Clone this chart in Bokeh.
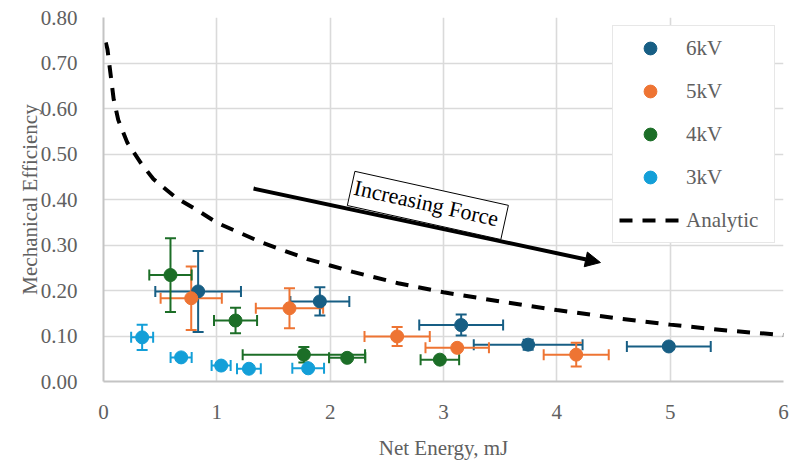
import numpy as np
from bokeh.plotting import figure
from bokeh.models import (ColumnDataSource, Whisker, TeeHead, Arrow, NormalHead, Label,
                          Legend, LegendItem, FixedTicker, NumeralTickFormatter, Range1d)
from bokeh.embed import file_html
from bokeh.resources import INLINE

# ---------------- data ----------------
series_names = ["6kV", "5kV", "4kV", "3kV"]
series_colors = ["#175e84", "#ee7433", "#1c6e27", "#139fd8"]

x_6kv = [0.835, 1.909, 3.156, 3.747, 4.988]
y_6kv = [0.198, 0.176, 0.124, 0.081, 0.077]
xerr_6kv = [0.378, 0.26, 0.37, 0.48, 0.37]
yerr_6kv = [0.089, 0.031, 0.023, 0.011, 0.0]

x_5kv = [0.774, 1.641, 2.591, 3.121, 4.171]
y_5kv = [0.183, 0.161, 0.099, 0.074, 0.059]
xerr_5kv = [0.27, 0.297, 0.288, 0.28, 0.287]
yerr_5kv = [0.07, 0.044, 0.021, 0.0, 0.026]

x_4kv = [0.591, 1.165, 1.768, 2.15, 2.968]
y_4kv = [0.234, 0.134, 0.059, 0.052, 0.048]
xerr_4kv = [0.187, 0.19, 0.54, 0.16, 0.17]
yerr_4kv = [0.081, 0.028, 0.017, 0.0, 0.0]

x_3kv = [0.341, 0.685, 1.038, 1.283, 1.806]
y_3kv = [0.097, 0.053, 0.035, 0.028, 0.029]
xerr_3kv = [0.097, 0.093, 0.084, 0.105, 0.14]
yerr_3kv = [0.028, 0.0, 0.0, 0.0, 0.0]

analytic_x = [0.02, 0.035, 0.06, 0.09, 0.13, 0.21, 0.33, 0.44, 0.64, 0.83, 1.0, 1.2, 1.4,
              1.6, 1.8, 2.0, 2.2, 2.6, 3.0, 3.5, 4.0, 4.5, 5.0, 5.5, 6.0]
analytic_y = [0.745, 0.73, 0.68, 0.62, 0.575, 0.525, 0.48, 0.445, 0.404, 0.376, 0.349, 0.327,
              0.305, 0.287, 0.269, 0.255, 0.241, 0.216, 0.196, 0.176, 0.157, 0.140, 0.125,
              0.112, 0.102]

x_ticks = [0, 1, 2, 3, 4, 5, 6]
y_ticks = [0.0, 0.1, 0.2, 0.3, 0.4, 0.5, 0.6, 0.7, 0.8]

arrow_start = (1.324, 0.424)
arrow_end = (4.385, 0.2615)
label_pos = (2.862, 0.387)
label_text = "Increasing Force"

FONT = "Liberation Serif"
GRAY = "#606060"

series = [
    (x_6kv, y_6kv, xerr_6kv, yerr_6kv),
    (x_5kv, y_5kv, xerr_5kv, yerr_5kv),
    (x_4kv, y_4kv, xerr_4kv, yerr_4kv),
    (x_3kv, y_3kv, xerr_3kv, yerr_3kv),
]

p = figure(width=790, height=464, output_backend="svg", toolbar_location=None,
           x_range=Range1d(0, 6), y_range=Range1d(0, 0.8),
           min_border_left=103, min_border_right=7, min_border_top=17, min_border_bottom=83)
p.outline_line_color = None
p.background_fill_color = "white"

for ax in (p.xaxis[0], p.yaxis[0]):
    ax.axis_line_color = "#c4c4c4"
    ax.axis_line_width = 2
    ax.major_tick_line_color = None
    ax.minor_tick_line_color = None
    ax.major_label_text_font = FONT
    ax.major_label_text_font_size = "21px"
    ax.major_label_text_color = GRAY
    ax.axis_label_text_font = FONT
    ax.axis_label_text_font_size = "21px"
    ax.axis_label_text_color = GRAY
    ax.axis_label_text_font_style = "normal"

p.xaxis.ticker = FixedTicker(ticks=x_ticks)
p.yaxis.ticker = FixedTicker(ticks=y_ticks)
p.yaxis.formatter = NumeralTickFormatter(format="0.00")
p.xaxis.axis_label = "Net Energy, mJ"
p.yaxis.axis_label = "Mechanical Efficiency"
p.xaxis.major_label_standoff = 17
p.yaxis.major_label_standoff = 20
p.xaxis.axis_label_standoff = 14
p.yaxis.axis_label_standoff = -4

for g in (p.xgrid[0], p.ygrid[0]):
    g.grid_line_color = "#dadada"
    g.grid_line_width = 1.6

for (xs, ys, xe, ye), name, c in zip(series, series_names, series_colors):
    xs = np.array(xs); ys = np.array(ys); xe = np.array(xe); ye = np.array(ye)
    srcx = ColumnDataSource(dict(y=ys, lo=xs - xe, hi=xs + xe))
    wx = Whisker(source=srcx, base="y", lower="lo", upper="hi", dimension="width",
                 line_color=c, line_width=2, level="underlay",
                 lower_head=TeeHead(size=11, line_color=c, line_width=2),
                 upper_head=TeeHead(size=11, line_color=c, line_width=2))
    p.add_layout(wx)
    m = ye > 0
    srcy = ColumnDataSource(dict(x=xs[m], lo=(ys - ye)[m], hi=(ys + ye)[m]))
    wy = Whisker(source=srcy, base="x", lower="lo", upper="hi", dimension="height",
                 line_color=c, line_width=2, level="underlay",
                 lower_head=TeeHead(size=11, line_color=c, line_width=2),
                 upper_head=TeeHead(size=11, line_color=c, line_width=2))
    p.add_layout(wy)

scatter_renderers = []
for (xs, ys, xe, ye), name, c in zip(series, series_names, series_colors):
    r = p.scatter(xs, ys, size=13, color=c, line_color=c)
    scatter_renderers.append((name, r))

ra = p.line(analytic_x, analytic_y, line_color="black", line_width=4, line_dash="13 10")

arrow = Arrow(end=NormalHead(size=15, fill_color="black", line_color="black", line_width=1),
              x_start=arrow_start[0], y_start=arrow_start[1],
              x_end=arrow_end[0], y_end=arrow_end[1], line_width=4, line_color="black")
p.add_layout(arrow)

lab = Label(x=label_pos[0], y=label_pos[1], text=label_text, angle=-0.218,
            text_align="center", text_baseline="middle", text_font=FONT,
            text_font_size="22px", text_color="black",
            border_line_color="black", border_line_width=1,
            background_fill_color="white", padding=(3, 7, 3, 7))
p.add_layout(lab)

legend = Legend(items=[LegendItem(label=n, renderers=[r]) for n, r in scatter_renderers]
                + [LegendItem(label="Analytic", renderers=[ra])],
                location="top_right", margin=8, padding=6, spacing=11,
                glyph_width=62, glyph_height=32, label_standoff=5, label_width=82,
                label_text_font=FONT, label_text_font_size="21px", label_text_color=GRAY,
                border_line_color="#d0d0d0", border_line_width=1,
                background_fill_color="white", background_fill_alpha=1.0)
p.add_layout(legend)

open("out.html", "w").write(file_html(p, INLINE))
